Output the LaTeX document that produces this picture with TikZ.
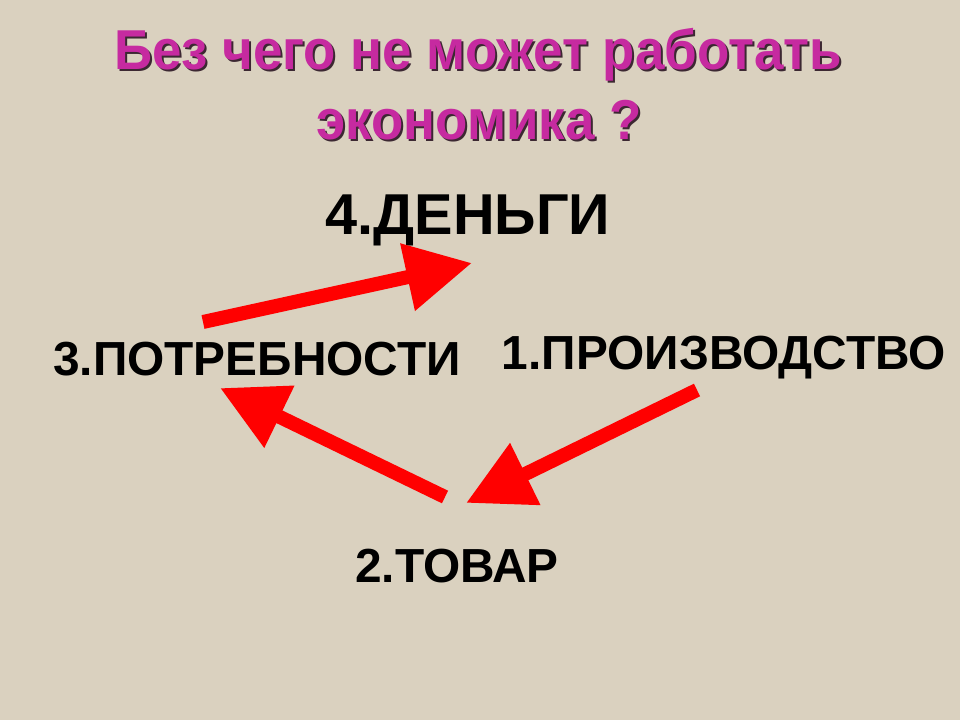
\documentclass[tikz,border=0pt]{standalone}
\usepackage{fontspec}
\setmainfont{Liberation Sans}
\newfontfamily\narrowfont[FakeStretch=0.94]{Liberation Sans}
\usetikzlibrary{arrows.meta}
\definecolor{bgbeige}{RGB}{218,209,191}
\definecolor{titlemag}{RGB}{198,42,160}
\definecolor{titleshade}{RGB}{60,40,50}
\definecolor{arrred}{RGB}{255,0,0}

\begin{document}
\begin{tikzpicture}[x=0.025cm,y=-0.025cm,
  ttl/.style={font=\narrowfont\bfseries\fontsize{40}{48}\selectfont, anchor=base, inner sep=0pt},
  lbl/.style={font=\bfseries\fontsize{34}{40}\selectfont, anchor=base, inner sep=0pt},
  bigarrow/.style={draw=arrred, line width=0.35cm, -{Triangle[length=1.65cm,width=1.63cm]}}]
\fill[bgbeige] (0,0) rectangle (960,720);
\useasboundingbox (0,0) rectangle (960,720);
% title with shadow
\node[ttl, text=titleshade] at (480,72) {Без чего не может работать};
\node[ttl, text=titlemag] (title1) at (478,70) {Без чего не может работать};
\node[ttl, text=titleshade] at (481,142) {экономика ?};
\node[ttl, text=titlemag] (title2) at (479,140) {экономика ?};
% the four steps
\node[lbl, font=\bfseries\fontsize{41}{48}\selectfont] (dengi) at (468,235) {4.ДЕНЬГИ};
\node[lbl] (potreb) at (257,376) {3.ПОТРЕБНОСТИ};
\node[lbl] (proizv) at (724,370) {1.ПРОИЗВОДСТВО};
\node[lbl] (tovar) at (457,582) {2.ТОВАР};
% arrow ends
\coordinate (potreb-out) at (203,322);
\coordinate (dengi-in) at (472,263);
\coordinate (proizv-out) at (697,390);
\coordinate (tovar-in) at (466,503);
\coordinate (tovar-out) at (445,497);
\coordinate (potreb-in) at (220,388);
\draw[bigarrow] (potreb-out) -- (dengi-in);
\draw[bigarrow] (proizv-out) -- (tovar-in);
\draw[bigarrow] (tovar-out) -- (potreb-in);
\end{tikzpicture}
\end{document}
